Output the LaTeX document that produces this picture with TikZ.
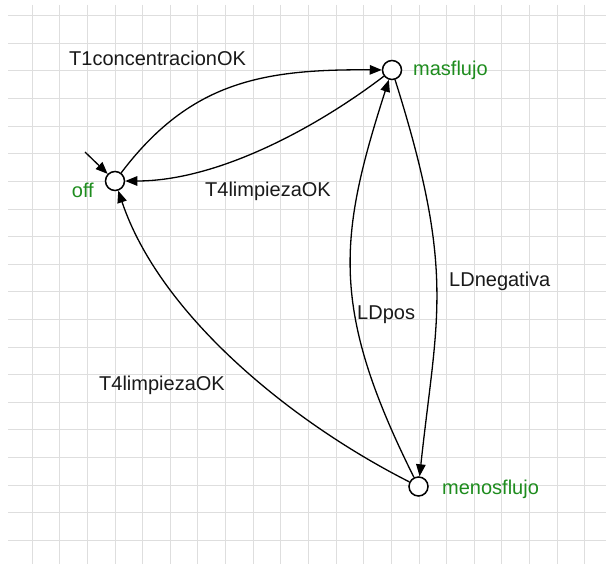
\documentclass[tikz,border=0pt]{standalone}
\usepackage{fontspec}
\setmainfont{Liberation Sans}
\usetikzlibrary{arrows.meta}
\definecolor{gridc}{RGB}{222,222,222}
\definecolor{stategreen}{RGB}{30,140,30}
\definecolor{labelc}{RGB}{25,25,25}
\begin{document}
\begin{tikzpicture}[x=1pt,y=-1pt,
  state/.style={circle,draw=black,line width=1.5pt,minimum size=19pt,inner sep=0pt,fill=white},
  slabel/.style={text=stategreen,font=\fontsize{20}{24}\selectfont,inner sep=0pt},
  elabel/.style={text=labelc,font=\fontsize{20}{24}\selectfont,inner sep=0pt},
  trans/.style={draw=black,line width=1.3pt,-{Triangle[length=12pt,width=9.5pt]}},
  gridline/.style={draw=gridc,line width=1pt}
]
\useasboundingbox (0,0) rectangle (606,564);
\foreach \k in {0,...,19} \draw[gridline] (8,15.7+27.62*\k) -- (606,15.7+27.62*\k);
\foreach \k in {0,...,20} \draw[gridline] (32.1+27.64*\k,5) -- (32.1+27.64*\k,564);

% states
\node[state] (off) at (115,181) {};
\node[state] (mas) at (392,70) {};
\node[state] (menos) at (418.5,486.5) {};

% state labels
\node[slabel,anchor=base east] (offl) at (94,198) {off};
\node[slabel,anchor=base west] (masl) at (413,76) {masflujo};
\node[slabel,anchor=base west] (menosl) at (442,494) {menosflujo};

% initial arrow
\coordinate (init) at (85,152);
\draw[trans] (init) -- (off);

% transitions
\draw[trans] (off) .. controls (190,82) and (262,69) .. (mas);
\draw[trans] (mas) .. controls (320,125) and (220,181) .. (off);
\draw[trans] (menos) .. controls (291,422) and (160,315) .. (off);
\draw[trans] (mas) .. controls (456,273) and (437,315) .. (menos);
\draw[trans] (menos) .. controls (330,309) and (338,238) .. (mas);

% transition labels
\node[elabel,anchor=base west] (t1) at (69,66) {T1concentracionOK};
\node[elabel,anchor=base west] (t4a) at (205,196.5) {T4limpiezaOK};
\node[elabel,anchor=base west] (t4b) at (99,391) {T4limpiezaOK};
\node[elabel,anchor=base west] (ldn) at (449,287) {LDnegativa};
\node[elabel,anchor=base west] (ldp) at (357,320) {LDpos};
\end{tikzpicture}
\end{document}
